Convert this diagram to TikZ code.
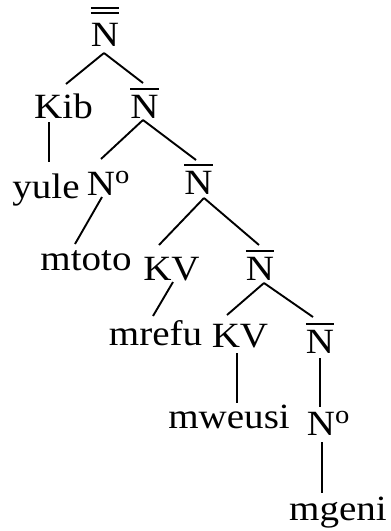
\documentclass[tikz,border=0pt]{standalone}
\usepackage{fontspec}
\setmainfont{Liberation Serif}[FakeStretch=1.1]
\newcommand{\ovbar}[1]{\vbox{\hrule height 1.9pt\kern 5.2pt\hbox{#1}}}
\newcommand{\ovbarbar}[1]{\vbox{\hrule height 1.9pt\kern 3.2pt\hrule height 1.9pt\kern 8.7pt\hbox{#1}}}
\newcommand{\Nzero}{N\rlap{\raisebox{12pt}{\fontsize{26}{26}\selectfont o}}}
\begin{document}
\begin{tikzpicture}[x=1pt,y=1pt,
  lbl/.style={inner sep=0pt, anchor=base, font=\fontsize{35.5}{40}\selectfont},
  edge/.style={line width=1.9pt, line cap=butt}]
\fill[white] (0,0) rectangle (391,-531);
\useasboundingbox (0,0) rectangle (391,-531);
% nodes
\node[lbl] (r)     at (105,-46)  {\ovbarbar{N}};
\node[lbl] (kib)   at (63.5,-118) {Kib};
\node[lbl] (n2)    at (144.5,-118) {\ovbar{N}};
\node[lbl] (yule)  at (46,-198)  {yule};
\node[lbl] (no3)   at (101,-195) {\Nzero};
\node[lbl] (n3)    at (198.5,-194) {\ovbar{N}};
\node[lbl] (mtoto) at (86,-270)  {mtoto};
\node[lbl] (kv4)   at (171.5,-280) {KV};
\node[lbl] (n4)    at (260,-280) {\ovbar{N}};
\node[lbl] (mrefu) at (155.5,-345) {mrefu};
\node[lbl] (kv5)   at (240,-347) {KV};
\node[lbl] (n5)    at (320,-353) {\ovbar{N}};
\node[lbl, anchor=base east] (mweusi) at (290,-428) {mweusi};
\node[lbl] (no5)   at (321,-435) {\Nzero};
\node[lbl] (mgeni) at (338,-520) {mgeni};
% connectors
\draw[edge] ([shift={(-1,-7)}]r.base) -- ([shift={(2.5,34)}]kib.base);
\draw[edge] ([shift={(-1,-7)}]r.base) -- ([shift={(-1.5,35)}]n2.base);
\draw[edge] ([shift={(-14.5,-4)}]kib.base) -- ([shift={(3,36)}]yule.base);
\draw[edge] ([shift={(-1.5,-2)}]n2.base) -- ([shift={(0,36)}]no3.base);
\draw[edge] ([shift={(-1.5,-2)}]n2.base) -- ([shift={(-2.5,34)}]n3.base);
\draw[edge] ([shift={(1,-2)}]no3.base) -- ([shift={(-11,26)}]mtoto.base);
\draw[edge] ([shift={(5.5,-4)}]n3.base) -- ([shift={(-12.5,35)}]kv4.base);
\draw[edge] ([shift={(5.5,-4)}]n3.base) -- ([shift={(-1,35)}]n4.base);
\draw[edge] ([shift={(1.5,-2)}]kv4.base) -- ([shift={(-2.5,29)}]mrefu.base);
\draw[edge] ([shift={(4,-3)}]n4.base) -- ([shift={(-13,32)}]kv5.base);
\draw[edge] ([shift={(4,-3)}]n4.base) -- ([shift={(-7,36)}]n5.base);
\draw[edge] ([shift={(-3,-6)}]kv5.base) -- ([shift={(-53,25)}]mweusi.base east);
\draw[edge] ([shift={(0,-5)}]n5.base) -- ([shift={(-1,28)}]no5.base);
\draw[edge] ([shift={(1,-7)}]no5.base) -- ([shift={(-16,27)}]mgeni.base);
\end{tikzpicture}
\end{document}
